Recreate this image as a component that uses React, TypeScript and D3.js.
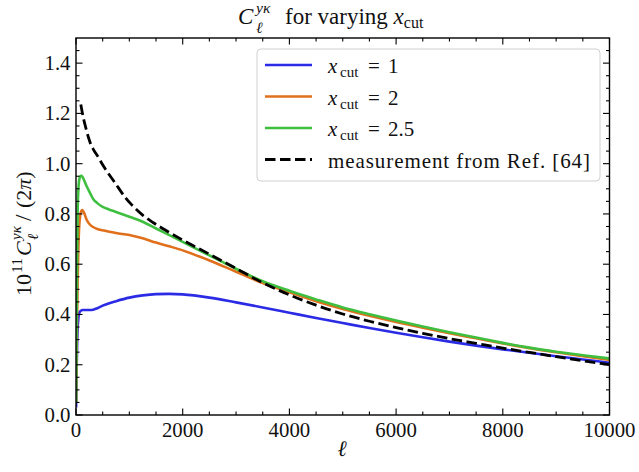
import React from 'react';
import * as d3 from 'd3';

// multipole values for the model curves
const ELL_MODEL = [2, 10, 20, 30, 45, 60, 80, 100, 120, 150, 200, 260, 320, 400, 500, 625, 750, 1000, 1250, 1500, 1750, 2000, 2500, 3000, 3500, 4000, 4500, 5000, 5500, 6000, 6500, 7000, 7500, 8000, 8500, 9000, 9500, 10000];

const XCUT_1 = [0.03, 0.15, 0.27, 0.34, 0.385, 0.405, 0.413, 0.416, 0.418, 0.418, 0.418, 0.418, 0.419, 0.425, 0.435, 0.445, 0.453, 0.467, 0.476, 0.481, 0.482, 0.48, 0.467, 0.448, 0.428, 0.407, 0.386, 0.366, 0.346, 0.327, 0.309, 0.292, 0.276, 0.261, 0.248, 0.234, 0.221, 0.208];

const XCUT_2 = [0.05, 0.2, 0.38, 0.52, 0.67, 0.75, 0.795, 0.812, 0.815, 0.805, 0.777, 0.758, 0.748, 0.74, 0.735, 0.729, 0.724, 0.716, 0.703, 0.686, 0.671, 0.655, 0.615, 0.57, 0.525, 0.488, 0.453, 0.422, 0.395, 0.37, 0.347, 0.325, 0.305, 0.285, 0.266, 0.25, 0.234, 0.219];

const XCUT_25 = [0.05, 0.3, 0.6, 0.8, 0.9, 0.935, 0.95, 0.952, 0.948, 0.935, 0.91, 0.885, 0.86, 0.843, 0.828, 0.817, 0.808, 0.789, 0.769, 0.742, 0.716, 0.689, 0.635, 0.582, 0.532, 0.494, 0.46, 0.428, 0.401, 0.376, 0.352, 0.329, 0.308, 0.287, 0.268, 0.252, 0.238, 0.225];

// measurement
const ELL_MEAS = [90, 140, 187, 240, 281, 330, 406, 480, 562, 650, 750, 850, 937, 1050, 1250, 1450, 1624, 2000, 2500, 3000, 3500, 4000, 4500, 5000, 5500, 6000, 6500, 7000, 7500, 8000, 8500, 9000, 9500, 10000];
const MEAS = [1.235, 1.18, 1.14, 1.1, 1.075, 1.055, 1.03, 1.003, 0.975, 0.948, 0.918, 0.887, 0.862, 0.835, 0.795, 0.765, 0.742, 0.696, 0.64, 0.583, 0.526, 0.478, 0.437, 0.402, 0.373, 0.348, 0.325, 0.304, 0.285, 0.266, 0.249, 0.232, 0.216, 0.2];

const X_TICKS = [0, 2000, 4000, 6000, 8000, 10000];
const Y_TICKS = [0.0, 0.2, 0.4, 0.6, 0.8, 1.0, 1.2, 1.4];

const SERIES = [
  { label: '1', values: XCUT_1, color: '#2b2be6' },
  { label: '2', values: XCUT_2, color: '#e0701c' },
  { label: '2.5', values: XCUT_25, color: '#3fbf3f' },
];

const W = 639, H = 472;
const M = { left: 76, right: 609.5, top: 38, bottom: 415 };
const FONT = "'Liberation Serif', 'DejaVu Serif', serif";

export default function App() {
  const x = d3.scaleLinear().domain([0, 10000]).range([M.left, M.right]);
  const y = d3.scaleLinear().domain([0, 1.5]).range([M.bottom, M.top]);
  const line = d3.line<[number, number]>().x(d => x(d[0])).y(d => y(d[1])).curve(d3.curveMonotoneX);

  const xMinor = d3.range(0, 10001, 500).filter(v => v % 2000 !== 0);
  const yMinor = d3.range(0, 30).map(i => i * 0.05).filter(v => Math.abs(v * 5 - Math.round(v * 5)) > 1e-6);
  const fmt = d3.format('.1f');
  const MAJ = 6.5, MIN = 3.5;

  const legendRows = [0, 1, 2, 3].map(i => 65 + i * 31.5);

  return (
    <div style={{ position: 'absolute', left: 0, top: 0 }}>
      <svg width={W} height={H} style={{ display: 'block', background: '#fff', fontFamily: FONT }}>
        <defs>
          <clipPath id="plotclip">
            <rect x={M.left} y={M.top} width={M.right - M.left} height={M.bottom - M.top} />
          </clipPath>
        </defs>

        {/* curves */}
        <g clipPath="url(#plotclip)" fill="none">
          {SERIES.map(s => (
            <path key={s.label} d={line(ELL_MODEL.map((l, i) => [l, s.values[i]] as [number, number])) || ''}
              stroke={s.color} strokeWidth={2.6} strokeLinejoin="round" />
          ))}
          <path d={line(ELL_MEAS.map((l, i) => [l, MEAS[i]] as [number, number])) || ''}
            stroke="#000" strokeWidth={2.8} strokeDasharray="10.5,4.5" />
        </g>

        {/* ticks */}
        <g stroke="#000" strokeWidth={1.1}>
          {X_TICKS.map(v => (
            <g key={'xt' + v}>
              <line x1={x(v)} x2={x(v)} y1={M.bottom} y2={M.bottom - MAJ} />
              <line x1={x(v)} x2={x(v)} y1={M.top} y2={M.top + MAJ} />
            </g>
          ))}
          {xMinor.map(v => (
            <g key={'xm' + v}>
              <line x1={x(v)} x2={x(v)} y1={M.bottom} y2={M.bottom - MIN} />
              <line x1={x(v)} x2={x(v)} y1={M.top} y2={M.top + MIN} />
            </g>
          ))}
          {Y_TICKS.map(v => (
            <g key={'yt' + v}>
              <line x1={M.left} x2={M.left + MAJ} y1={y(v)} y2={y(v)} />
              <line x1={M.right} x2={M.right - MAJ} y1={y(v)} y2={y(v)} />
            </g>
          ))}
          {yMinor.map(v => (
            <g key={'ym' + v}>
              <line x1={M.left} x2={M.left + MIN} y1={y(v)} y2={y(v)} />
              <line x1={M.right} x2={M.right - MIN} y1={y(v)} y2={y(v)} />
            </g>
          ))}
        </g>

        {/* spines */}
        <rect x={M.left} y={M.top} width={M.right - M.left} height={M.bottom - M.top}
          fill="none" stroke="#000" strokeWidth={1.4} />

        {/* tick labels */}
        <g fontSize={20.8} fill="#111">
          {X_TICKS.map(v => (
            <text key={'xl' + v} x={x(v)} y={437} textAnchor="middle">{v}</text>
          ))}
          {Y_TICKS.map(v => (
            <text key={'yl' + v} x={70.5} y={y(v) + 7} textAnchor="end">{fmt(v)}</text>
          ))}
        </g>

        {/* x label */}
        <text x={342} y={456} fontSize={22} fontStyle="italic" textAnchor="middle" fill="#111">ℓ</text>

        {/* y label */}
        <g transform="translate(31,226) rotate(-90)" fill="#111">
          <text x={-70} y={0} fontSize={22}>10</text>
          <text x={-47} y={-9} fontSize={15.5}>11</text>
          <text x={-30} y={0} fontSize={22} fontStyle="italic">C</text>
          <text x={-14} y={-10} fontSize={15} fontStyle="italic">yκ</text>
          <text x={-14} y={7} fontSize={15} fontStyle="italic">ℓ</text>
          <text x={5} y={0} fontSize={23}>/</text>
          <text x={18} y={0} fontSize={22}>(2<tspan fontStyle="italic">π</tspan>)</text>
        </g>

        {/* title */}
        <g fill="#111">
          <text x={238} y={24} fontSize={23} fontStyle="italic">C</text>
          <text x={256} y={13} fontSize={15.5} fontStyle="italic">yκ</text>
          <text x={256} y={33} fontSize={15.5} fontStyle="italic">ℓ</text>
          <text x={285} y={24} fontSize={23}>for varying <tspan fontStyle="italic">x</tspan><tspan fontSize={16} dy={4}>cut</tspan></text>
        </g>

        {/* legend */}
        <rect x={257} y={49} width={343} height={132} rx={4} fill="#fff" fillOpacity={0.8} stroke="#d0d0d0" strokeWidth={1} />
        {SERIES.map((s, i) => (
          <g key={'lg' + s.label} fill="#111">
            <line x1={265} x2={312} y1={legendRows[i]} y2={legendRows[i]} stroke={s.color} strokeWidth={2.6} />
            <text x={328} y={legendRows[i] + 8} fontSize={21} fontStyle="italic">x</text>
            <text x={340} y={legendRows[i] + 12} fontSize={15}>cut</text>
            <text x={368} y={legendRows[i] + 8} fontSize={21}>=</text>
            <text x={388} y={legendRows[i] + 8} fontSize={21}>{s.label}</text>
          </g>
        ))}
        <line x1={265} x2={312} y1={legendRows[3]} y2={legendRows[3]} stroke="#000" strokeWidth={2.8} strokeDasharray="10.5,4.5" />
        <text x={328} y={legendRows[3] + 8} fontSize={21} fill="#111" textLength={262} lengthAdjust="spacing">measurement from Ref. [64]</text>
      </svg>
    </div>
  );
}
